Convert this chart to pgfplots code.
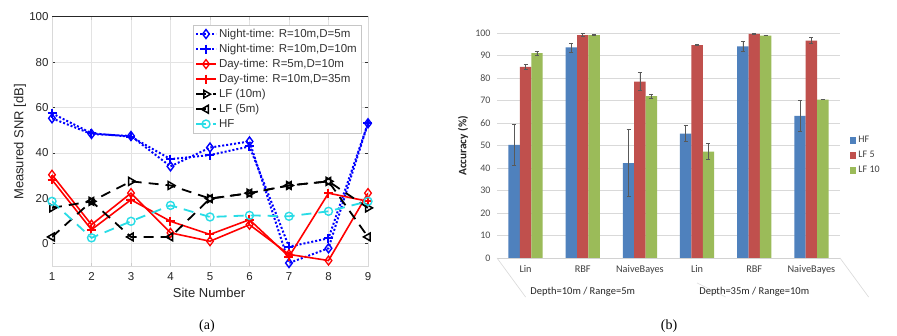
\documentclass[border=0pt]{standalone}
\usepackage{fontspec}
\setmainfont{Liberation Sans}
\newfontfamily\carlito{Carlito}
\newfontfamily\seriffont{Liberation Serif}
\usepackage{pgfplots}
\usepackage{pgfplotstable}
\pgfplotsset{compat=1.18}
\definecolor{xlblue}{RGB}{79,129,189}
\definecolor{xlred}{RGB}{192,80,77}
\definecolor{xlgreen}{RGB}{155,187,89}
\definecolor{mlcyan}{RGB}{40,220,230}

\pgfplotstableread{
x y
1 55.2
2 48.3
3 47.4
4 34.0
5 42.3
6 45.0
7 -8.6
8 -2.1
9 53.0
}\nightA
\pgfplotstableread{
x y
1 57.4
2 48.6
3 47.1
4 37.2
5 39.0
6 42.8
7 -1.4
8 2.3
9 53.0
}\nightB
\pgfplotstableread{
x y
1 30.3
2 8.3
3 22.2
4 4.7
5 1.0
6 8.3
7 -4.8
8 -7.5
9 22.2
}\dayA
\pgfplotstableread{
x y
1 28.1
2 6.1
3 19.3
4 9.8
5 4.0
6 10.5
7 -5.8
8 22.2
9 18.6
}\dayB
\pgfplotstableread{
x y
1 15.7
2 18.6
3 27.4
4 25.6
5 19.8
6 22.2
7 25.6
8 27.4
9 15.7
}\lften
\pgfplotstableread{
x y
1 2.9
2 18.6
3 2.9
4 2.9
5 19.8
6 22.2
7 25.6
8 27.4
9 2.9
}\lffive
\pgfplotstableread{
x y
1 18.6
2 2.5
3 9.8
4 16.8
5 11.7
6 12.4
7 12.0
8 14.2
9 18.6
}\hf

\pgfplotstableread{
x y e
0 50.3 9.0
1 93.6 2.0
2 42.2 15.0
3 55.3 3.6
4 94.1 2.4
5 63.2 6.8
}\barHF
\pgfplotstableread{
x y e
0 84.9 1.0
1 99.1 0.6
2 78.4 4.0
3 94.6 0.2
4 99.6 0.2
5 96.6 1.3
}\barLFfive
\pgfplotstableread{
x y e
0 91.0 1.0
1 99.1 0.2
2 71.9 1.0
3 47.3 3.6
4 98.8 0.0
5 70.4 0.0
}\barLFten

\begin{document}
\begin{tikzpicture}[x=1pt,y=1pt]
\useasboundingbox (0,0) rectangle (897,336);
\fill[white] (0,0) rectangle (897,336);

% ---------------- (a) ----------------
\begin{axis}[
  at={(52pt,69.8pt)}, anchor=south west,
  scale only axis, width=316pt, height=249.5pt,
  xmin=1, xmax=9, ymin=-10, ymax=100,
  xtick={1,...,9}, ytick={0,20,...,100},
  grid=major, grid style={gray!22, line width=0.5pt},
  axis line style={gray!30},
  tick style={black!80, line width=0.5pt}, major tick length=3pt,
  xtick style={gray!40},
  /pgf/number format/assume math mode=true,
  ticklabel style={font=\fontsize{11.5}{13}\selectfont, text=black!85},
  xticklabel style={yshift=-3pt},
  legend style={at={(0.978,0.967)}, anchor=north east,
    font=\fontsize{11.5}{13.5}\selectfont, text=black!80,
    draw=gray!45, fill=white, inner sep=2pt,
    cells={anchor=west}, row sep=1.2pt},
  legend image code/.code={\draw[mark repeat=2, mark phase=2, #1] plot coordinates {(0pt,0pt)(10pt,0pt)(20pt,0pt)};},
  legend cell align=left,
]
\addplot[blue, line width=2pt, dotted, mark=diamond, mark size=4.5pt, mark options={solid, line width=1.4pt, fill=white}]
  table[x=x,y=y]{\nightA};
\addlegendentry{Night-time: R=10m,D=5m}
\addplot[blue, line width=2pt, dotted, mark=+, mark size=4.5pt, mark options={solid, line width=2pt}]
  table[x=x,y=y]{\nightB};
\addlegendentry{Night-time: R=10m,D=10m}
\addplot[red, line width=1.6pt, mark=diamond, mark size=4.5pt, mark options={solid, line width=1.3pt, fill=white}]
  table[x=x,y=y]{\dayA};
\addlegendentry{Day-time: R=5m,D=10m}
\addplot[red, line width=1.6pt, mark=+, mark size=4.5pt, mark options={solid, line width=2pt}]
  table[x=x,y=y]{\dayB};
\addlegendentry{Day-time: R=10m,D=35m}
\addplot[black, line width=1.8pt, dash pattern=on 10pt off 7pt, mark=triangle, mark size=4.5pt, mark options={solid, line width=1.5pt, rotate=-90, fill=white}]
  table[x=x,y=y]{\lften};
\addlegendentry{LF (10m)}
\addplot[black, line width=1.8pt, dash pattern=on 10pt off 7pt, mark=triangle, mark size=4.5pt, mark options={solid, line width=1.5pt, rotate=90, fill=none}]
  table[x=x,y=y]{\lffive};
\addlegendentry{LF (5m)}
\addplot[mlcyan, line width=1.8pt, dash pattern=on 10pt off 7pt, mark=o, mark size=4pt, mark options={solid, line width=1.4pt, fill=white}]
  table[x=x,y=y]{\hf};
\addlegendentry{HF}
\draw[black!85, line width=0.9pt] (rel axis cs:0,1) -- (rel axis cs:1,1) -- (rel axis cs:1,0);
\end{axis}
\node[rotate=90, font=\fontsize{13}{15}\selectfont, text=black!85] at (20,194) {Measured SNR [dB]};
\node[font=\fontsize{13}{15}\selectfont, text=black!85] at (209,43) {Site Number};
\node[font=\seriffont\fontsize{14}{16}\selectfont] at (207,10) {(a)};

% ---------------- (b) ----------------
\begin{axis}[
  at={(497pt,78pt)}, anchor=south west,
  scale only axis, width=343pt, height=225pt,
  ybar=0pt, bar width=11.4pt,
  xmin=-0.5, xmax=5.5, ymin=0, ymax=100,
  ytick={0,10,...,100},
  xtick={0,...,5},
  xticklabels={Lin,RBF,NaiveBayes,Lin,RBF,NaiveBayes},
  ymajorgrids, grid style={gray!30, line width=0.6pt},
  axis line style={draw=none},
  major tick length=0pt,
  /pgf/number format/assume math mode=true,
  yticklabel style={font=\carlito\fontsize{10}{12}\selectfont, text=black!70, xshift=-3pt},
  xticklabel style={font=\carlito\fontsize{10.3}{12}\selectfont, text=black!75, yshift=-4pt},
  clip=false,
  legend style={at={(1.03,0.55)}, anchor=north west, draw=none, fill=none,
    font=\carlito\fontsize{10}{12}\selectfont, text=black!75,
    row sep=3pt, inner sep=0pt},
  legend image code/.code={\fill[#1] (0pt,-3.5pt) rectangle (6pt,3.5pt);},
  legend cell align=left,
  every error bar/.style={black!65, line width=0.6pt},
]
\draw[gray!35, line width=0.6pt] (axis cs:-0.5,0) -- (axis cs:5.5,0);
\draw[gray!30, line width=0.6pt] (axis cs:-0.5,0) -- ++(0,-39pt);
\draw[gray!30, line width=0.6pt] (axis cs:5.5,0) -- ++(0,-39pt);
\draw[gray!25, line width=0.6pt] (axis cs:2.5,0) ++(0,-25pt) -- ++(0,-14pt);
\addplot[fill=xlblue, draw=none,
  error bars/.cd, y dir=both, y explicit,
  error bar style={black!65, line width=0.6pt},
  error mark options={rotate=90, mark size=2pt, black!65, line width=0.6pt}]
  table[x=x, y=y, y error=e]{\barHF};
\addlegendentry{HF}
\addplot[fill=xlred, draw=none,
  error bars/.cd, y dir=both, y explicit,
  error bar style={black!65, line width=0.6pt},
  error mark options={rotate=90, mark size=2pt, black!65, line width=0.6pt}]
  table[x=x, y=y, y error=e]{\barLFfive};
\addlegendentry{LF 5}
\addplot[fill=xlgreen, draw=none,
  error bars/.cd, y dir=both, y explicit,
  error bar style={black!65, line width=0.6pt},
  error mark options={rotate=90, mark size=2pt, black!65, line width=0.6pt}]
  table[x=x, y=y, y error=e]{\barLFten};
\addlegendentry{LF 10}
\node[font=\carlito\fontsize{10.5}{12}\selectfont, text=black!85] at (axis cs:1,0) [yshift=-34pt] {Depth=10m / Range=5m};
\node[font=\carlito\fontsize{10.5}{12}\selectfont, text=black!85] at (axis cs:4,0) [yshift=-34pt] {Depth=35m / Range=10m};
\end{axis}
\node[rotate=90, font=\carlito\bfseries\fontsize{11.3}{13}\selectfont, text=black!85] at (463,190) {Accuracy (\%)};
\node[font=\seriffont\fontsize{14}{16}\selectfont] at (669,10) {(b)};
\end{tikzpicture}
\end{document}
